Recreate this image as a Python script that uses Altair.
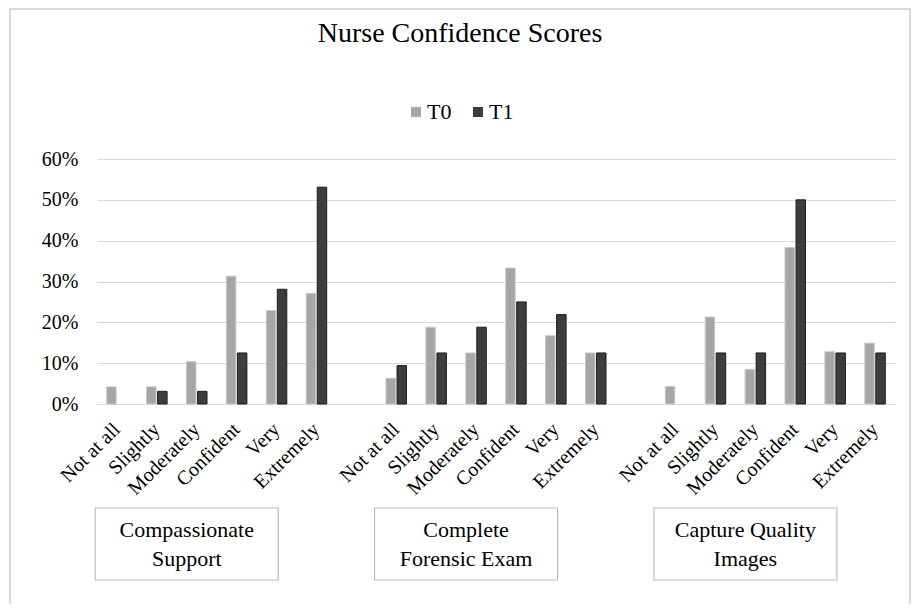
import json
import altair as alt
import pandas as pd

# ---- data ----
categories = ["Not at all", "Slightly", "Moderately", "Confident", "Very", "Extremely"]
groups = ["Compassionate Support", "Complete Forensic Exam", "Capture Quality Images"]
group_lines = [["Compassionate", "Support"], ["Complete", "Forensic Exam"], ["Capture Quality", "Images"]]
series = ["T0", "T1"]
t0_values = [
    [4.2, 4.2, 10.4, 31.3, 22.9, 27.1],
    [6.3, 18.8, 12.5, 33.3, 16.7, 12.5],
    [4.3, 21.3, 8.5, 38.3, 12.8, 14.9],
]
t1_values = [
    [0.0, 3.1, 3.1, 12.5, 28.1, 53.1],
    [9.4, 12.5, 18.8, 25.0, 21.9, 12.5],
    [0.0, 12.5, 12.5, 50.0, 12.5, 12.5],
]
y_ticks = [0, 0.1, 0.2, 0.3, 0.4, 0.5, 0.6]

FONT = "Liberation Serif"
stride = len(categories) + 1
n_slots = len(groups) * stride - 1
slots = list(range(n_slots))
tick_labels = [""] * n_slots
rows = []
for g, grp in enumerate(groups):
    for i, cat in enumerate(categories):
        s = g * stride + i
        tick_labels[s] = cat
        for ser, vals in zip(series, [t0_values, t1_values]):
            rows.append({"group": grp, "category": cat, "slot": s, "series": ser, "value": vals[g][i] / 100})
df = pd.DataFrame(rows)
box_df = pd.DataFrame({"group": groups, "slot": [g * stride + 2 for g in range(len(groups))], "lines": group_lines})

x_scale = alt.Scale(domain=slots, paddingInner=0, paddingOuter=0)
fill_scale = alt.Scale(domain=series, range=["#a6a6a6", "#3d3d3d"])
stroke_scale = alt.Scale(domain=series, range=["#c8c8c8", "#1e1e1e"])

bars = alt.Chart(df).transform_filter("datum.value > 0").mark_bar(strokeWidth=1).encode(
    x=alt.X("slot:O", scale=x_scale, title=None,
            axis=alt.Axis(labelExpr=json.dumps(tick_labels) + "[datum.value]",
                          labelAngle=-45, labelAlign="right", labelBaseline="middle",
                          labelPadding=22, labelFont=FONT, labelFontSize=20, labelColor="#000000",
                          ticks=False, domainColor="#d9d9d9", grid=False, labelOverlap=False)),
    xOffset=alt.XOffset("series:N", scale=alt.Scale(domain=series, paddingInner=0.14, paddingOuter=0.88)),
    y=alt.Y("value:Q", scale=alt.Scale(domain=[0, 0.6]), title=None,
            axis=alt.Axis(values=y_ticks, format=".0%", domain=False, ticks=False,
                          gridColor="#d9d9d9", labelFont=FONT, labelFontSize=20,
                          labelColor="#000000", labelPadding=19)),
    color=alt.Color("series:N", scale=fill_scale, title=None,
                    legend=alt.Legend(orient="none", legendX=308, legendY=-58, direction="horizontal",
                                      symbolType="square", symbolSize=100, symbolStrokeWidth=0,
                                      labelFont=FONT, labelFontSize=22, labelColor="#000000",
                                      labelOffset=0, columnPadding=15)),
    stroke=alt.Stroke("series:N", scale=stroke_scale, legend=None),
)

# annotation boxes under each group (wide rectangle symbol, 183 x 72 px)
box_path = "M-1,-0.3934H1V0.3934H-1Z"
boxes = alt.Chart(box_df).mark_point(shape=box_path, size=183 ** 2, filled=True, fill="white",
                                     stroke="#bfbfbf", strokeWidth=1.2, opacity=1).encode(
    x=alt.X("slot:O", scale=x_scale, bandPosition=0.25),
    y=alt.value(385),
)
box_text = alt.Chart(box_df).mark_text(font=FONT, fontSize=22, color="#000000", lineHeight=29,
                                       baseline="middle").encode(
    x=alt.X("slot:O", scale=x_scale, bandPosition=0.25),
    y=alt.value(371),
    text="lines",
)
frame = alt.Chart(box_df).mark_rect(fill=None, stroke="#d9d9d9", strokeWidth=1.5).encode(
    x=alt.value(-87), x2=alt.value(813), y=alt.value(-150), y2=alt.value(446),
)

chart = alt.layer(frame, bars, boxes, box_text).properties(
    width=798, height=245,
    title=alt.TitleParams("Nurse Confidence Scores", font=FONT, fontSize=28, fontWeight="normal",
                          color="#000000", anchor="middle", frame="group", dx=-36, offset=-40),
    autosize=alt.AutoSizeParams(type="none"),
    padding={"left": 89, "top": 151, "right": 16, "bottom": 200},
).configure_view(stroke=None)

chart.save("out.html", embed_options={"renderer": "svg", "actions": False})
